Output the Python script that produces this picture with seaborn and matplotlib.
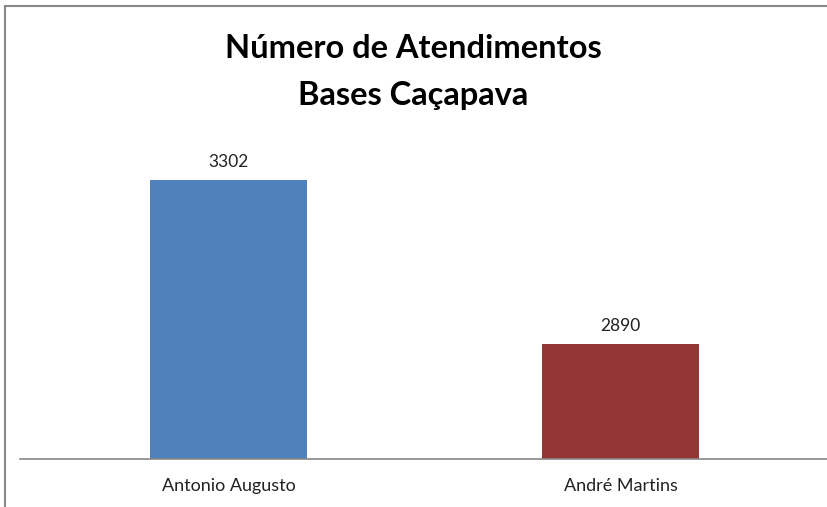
import matplotlib
matplotlib.use("Agg")
import matplotlib.pyplot as plt
import seaborn as sns
import pandas as pd
from matplotlib.patches import Rectangle

# chart data
bases = ["Antonio Augusto", "André Martins"]
atendimentos = [3302, 2890]
cores = ["#4F81BD", "#943634"]

df = pd.DataFrame({"base": bases, "atendimentos": atendimentos})

sns.set_style("white")
plt.rcParams["font.family"] = ["Lato", "DejaVu Sans"]

fig = plt.figure(figsize=(8.27, 5.07), dpi=100)
ax = fig.add_axes([20 / 827, 48 / 507, 807 / 827, 318 / 507])

sns.barplot(data=df, x="base", y="atendimentos", hue="base", palette=cores,
            width=0.4, legend=False, ax=ax, saturation=1, linewidth=0)

ax.set_xlim(-0.532, 1.526)
ax.set_ylim(2600, 3400)
for c in ax.containers:
    ax.bar_label(c, fmt="%d", padding=7, fontsize=12.5, color="#222222")

ax.set_xlabel("")
ax.set_ylabel("")
ax.set_yticks([])
ax.tick_params(axis="x", length=0, pad=14, labelsize=13, labelcolor="#222222")
for s in ["top", "right", "left"]:
    ax.spines[s].set_visible(False)
ax.spines["bottom"].set_color("#888888")
ax.spines["bottom"].set_linewidth(1.2)

fig.text(0.5, 1 - 48 / 507, "Número de Atendimentos", ha="center", va="center",
         fontsize=23.5, fontweight="bold", color="black")
fig.text(0.5, 1 - 95 / 507, "Bases Caçapava", ha="center", va="center",
         fontsize=23.5, fontweight="bold", color="black")

# outer chart frame (cropped at right and bottom)
fig.patches.append(Rectangle((5 / 827, -0.05), 1.1, 1 - 6 / 507 + 0.05,
                             transform=fig.transFigure, fill=False,
                             edgecolor="#878787", linewidth=1.5))

fig.savefig("out.png", dpi=100)
